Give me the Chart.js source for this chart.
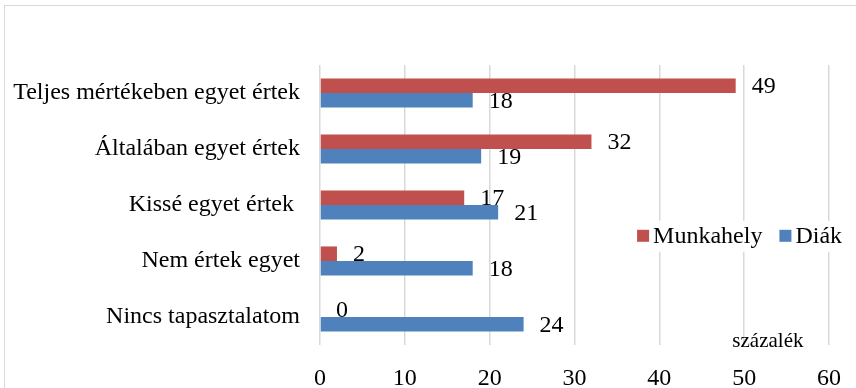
<!DOCTYPE html>
<html>
<head>
<meta charset="utf-8">
<script src="https://cdn.jsdelivr.net/npm/chart.js@4/dist/chart.umd.min.js"></script>
<style>
  html, body { margin: 0; padding: 0; background: #fff; }
  #wrap { position: relative; width: 856px; height: 388px; }
</style>
</head>
<body>
<div id="wrap"><canvas id="c" width="856" height="388"></canvas></div>
<script>
// Survey answers (percent) by respondent group
const categories = [
  'Teljes mértékeben egyet értek',
  'Általában egyet értek',
  'Kissé egyet értek ',
  'Nem értek egyet',
  'Nincs tapasztalatom'
];
const munkahely = [49, 32, 17, 2, 0];
const diak = [18, 19, 21, 18, 24];
const seriesNames = ['Munkahely', 'Diák'];
const seriesColors = ['#C0504D', '#4F81BD'];
const axisTitle = 'százalék';
const xMin = 0, xMax = 60, xStep = 10;

const SERIF = "'Liberation Serif', 'Times New Roman', serif";

// Light frame around the whole figure
const framePlugin = {
  id: 'frame',
  beforeDraw(chart) {
    const ctx = chart.ctx;
    ctx.save();
    ctx.fillStyle = '#fff';
    ctx.fillRect(0, 0, chart.width, chart.height);
    ctx.strokeStyle = '#d9d9d9';
    ctx.lineWidth = 1;
    ctx.strokeRect(4.5, 5.5, chart.width + 10, chart.height + 10);
    ctx.restore();
  }
};

// Value labels just past the end of each bar
const valueLabels = {
  id: 'valueLabels',
  afterDatasetsDraw(chart) {
    const ctx = chart.ctx;
    ctx.save();
    ctx.font = '24px ' + SERIF;
    ctx.fillStyle = '#000';
    ctx.textAlign = 'left';
    ctx.textBaseline = 'middle';
    chart.data.datasets.forEach((ds, di) => {
      const meta = chart.getDatasetMeta(di);
      meta.data.forEach((bar, i) => {
        ctx.fillText(String(ds.data[i]), bar.x + 16, bar.y + 1);
      });
    });
    ctx.restore();
  }
};

// Legend box inside the plot area, plus the unit caption
const innerLegend = {
  id: 'innerLegend',
  afterDatasetsDraw(chart) {
    const ctx = chart.ctx;
    const area = chart.chartArea;
    ctx.save();
    ctx.font = '24px ' + SERIF;
    const cy = area.top + (area.bottom - area.top) * 0.61;
    const sq = 12;
    let x = area.left + (area.right - area.left) * 0.623;
    ctx.fillStyle = '#fff';
    ctx.fillRect(x - 9, cy - 15, chart.width - x + 3, 31);
    ctx.textBaseline = 'middle';
    ctx.textAlign = 'left';
    seriesNames.forEach((name, i) => {
      ctx.fillStyle = seriesColors[i];
      ctx.fillRect(x, cy - sq / 2, sq, sq);
      x += sq + 4;
      ctx.fillStyle = '#000';
      ctx.fillText(name, x, cy + 1);
      x += ctx.measureText(name).width + 17;
    });
    ctx.font = '21px ' + SERIF;
    ctx.textAlign = 'center';
    ctx.textBaseline = 'alphabetic';
    ctx.fillStyle = '#000';
    const xs = chart.scales.x;
    ctx.fillText(axisTitle, xs.getPixelForValue(52.8), area.bottom + 2);
    ctx.restore();
  }
};

new Chart(document.getElementById('c'), {
  type: 'bar',
  data: {
    labels: categories,
    datasets: [
      { label: seriesNames[0], data: munkahely, backgroundColor: seriesColors[0] },
      { label: seriesNames[1], data: diak, backgroundColor: seriesColors[1] }
    ]
  },
  options: {
    indexAxis: 'y',
    responsive: false,
    animation: false,
    devicePixelRatio: 1,
    layout: { padding: { top: 65, right: 27, left: 0, bottom: 0 } },
    datasets: { bar: { categoryPercentage: 0.52, barPercentage: 1.0 } },
    plugins: {
      legend: { display: false },
      tooltip: { enabled: false },
      title: { display: false }
    },
    scales: {
      x: {
        min: xMin,
        max: xMax,
        border: { display: false },
        grid: { color: '#d9d9d9', lineWidth: 1.5, drawTicks: false },
        ticks: {
          stepSize: xStep,
          padding: 19,
          color: '#000',
          font: { family: SERIF, size: 24 }
        },
        afterFit(scale) {
          scale.height = 43;
          scale.paddingLeft = 0;
          scale.paddingRight = 0;
        }
      },
      y: {
        border: { display: false },
        grid: { display: false, drawTicks: false },
        ticks: {
          padding: 20,
          color: '#000',
          autoSkip: false,
          font: { family: SERIF, size: 24 }
        },
        afterFit(scale) { scale.width = 320; }
      }
    }
  },
  plugins: [framePlugin, valueLabels, innerLegend]
});
</script>
</body>
</html>
